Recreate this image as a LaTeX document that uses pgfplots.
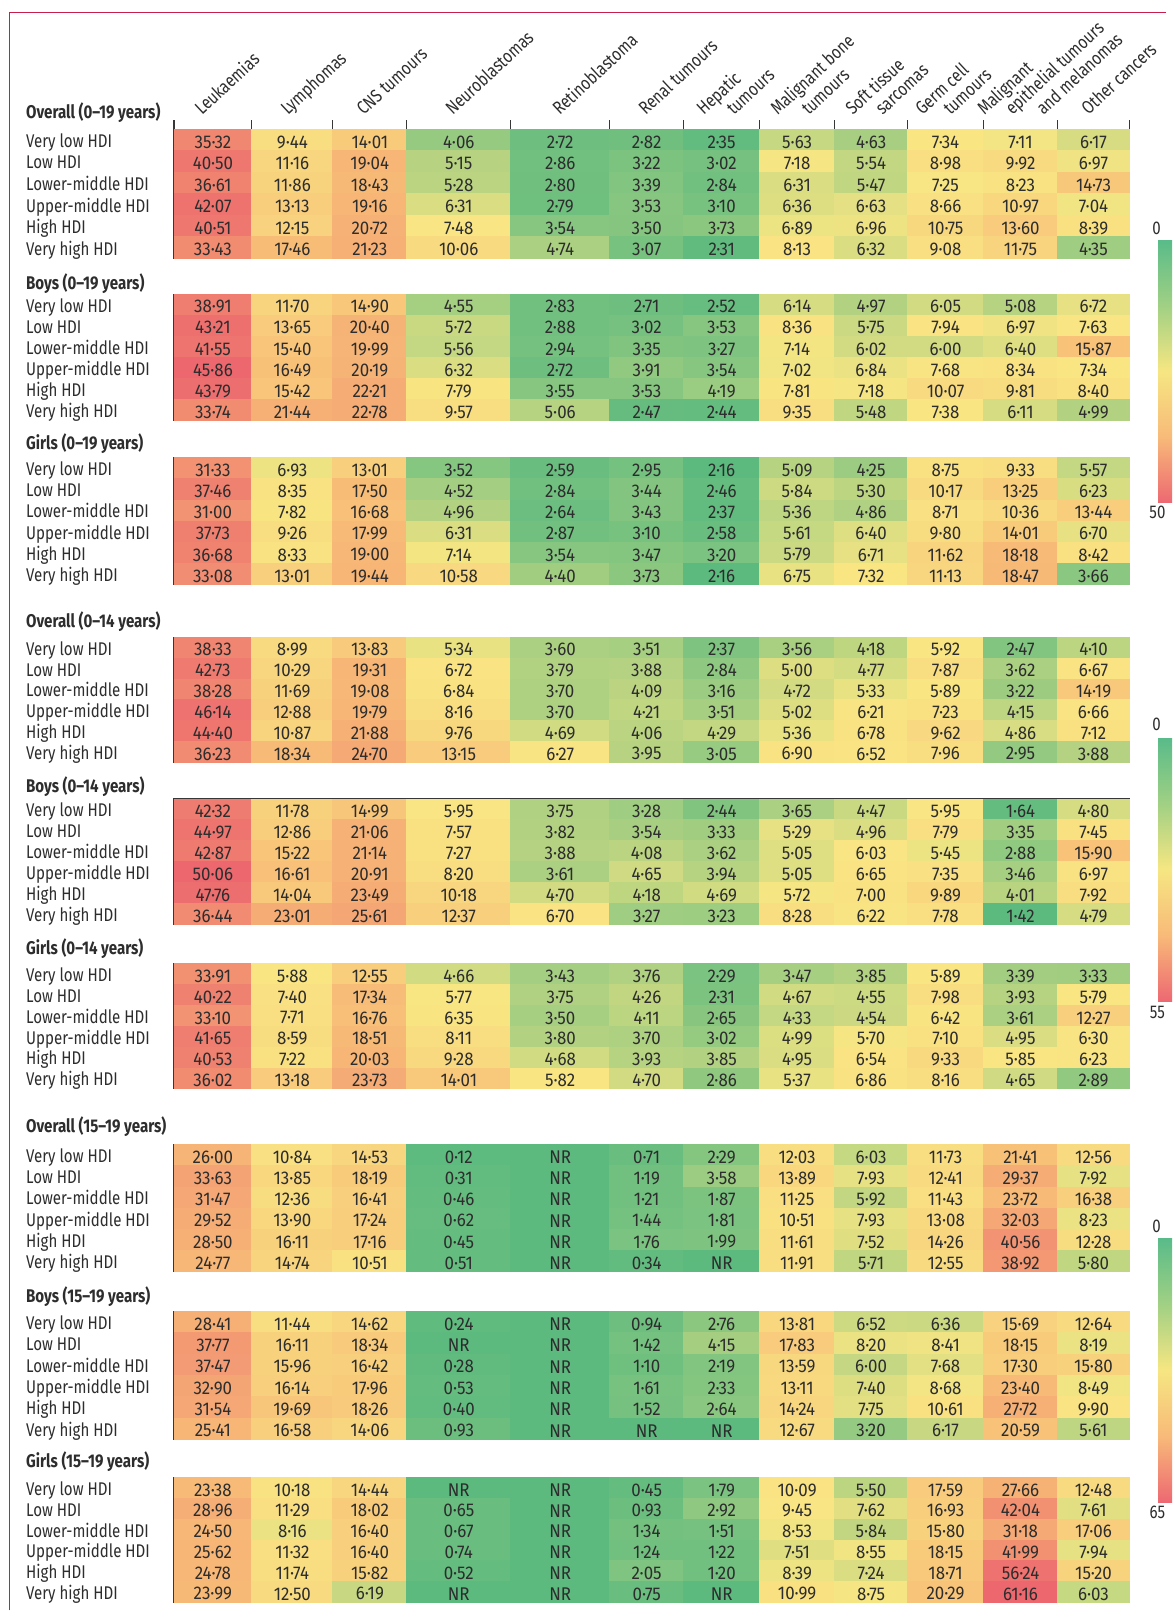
\documentclass[border=0pt]{standalone}
\usepackage{fontspec}
\setmainfont{Fira Sans}[FakeStretch=0.82]
\newfontfamily\numfont{Fira Sans}[FakeStretch=0.92]
\usepackage{pgfplots}
\usepackage{pgfplotstable}
\pgfplotsset{compat=1.18}
\definecolor{txt}{RGB}{45,45,45}
\definecolor{frm}{RGB}{55,55,55}
\definecolor{crim}{RGB}{200,30,75}
\newcommand\lab{\fontsize{18.4}{22}\selectfont}
\newcommand\numlab{\numfont\fontsize{18.4}{22}\selectfont}
\pgfdeclareplotmark{cellrect}{\pgfsetfillcolor{mapped color}\pgfpathrectangle{\pgfpoint{-1pt}{-1pt}}{\pgfpoint{2pt}{2pt}}\pgfusepathqfill}
\pgfplotsset{
 colormap={barmap}{rgb255=(88,187,137) rgb255=(160,208,132) rgb255=(246,230,130) rgb255=(248,186,121) rgb255=(237,104,114)},
 colormap={cells}{rgb255=(92,186,127) rgb255=(108,190,127) rgb255=(123,195,128) rgb255=(139,199,128) rgb255=(155,204,129)
   rgb255=(171,208,129) rgb255=(186,212,129) rgb255=(202,217,130) rgb255=(218,221,130) rgb255=(233,226,131) rgb255=(249,230,131)
   rgb255=(248,214,127) rgb255=(248,199,122) rgb255=(247,183,118) rgb255=(245,172,117) rgb255=(244,160,116) rgb255=(242,149,115)
   rgb255=(241,138,113) rgb255=(239,127,112) rgb255=(238,115,111) rgb255=(236,104,110)},
}
\newcommand\celllabel{\pgfmathfloatparsenumber{\rawv}\pgfmathfloatgetflagstomacro\pgfmathresult\nrflag
  \ifnum\nrflag=0 NR\else\pgfmathprintnumber[fixed,fixed zerofill,precision=2,assume math mode=true,set decimal separator={\textperiodcentered}]{\rawv}\fi}
\pgfplotsset{cellplot/.style 2 args={scatter, only marks, mark=cellrect, point meta=explicit,
  mark options={xscale=#1, yscale=#2},
  scatter/use mapped color={draw=none, fill=mapped color},
  nodes near coords*={\celllabel}, nodes near coords align=center,
  every node near coord/.append style={font=\numlab, text=txt, inner sep=0pt, yshift=-2pt}}}
% #1 table #2 top #3 row height #4 half height (+overlap) #5 column #6 centre #7 half width (+overlap)
\newcommand\cellcol[7]{%
  \addplot[cellplot={#7}{#4}, visualization depends on={\thisrow{#5}\as\rawv}]
    table[x expr={#6}, y expr={#2+#3*(\coordindex+0.5)},
          meta expr={25*max(min((\thisrow{#5}-\gmin)/(\gmid-\gmin),1),0)+25*max(\thisrow{#5}-\gmid,0)/(\gmax-\gmid)}] {#1};
}
\newcommand\drawblock[4]{%
  \cellcol{#1}{#2}{#3}{#4}{c0}{213}{39.4}
  \cellcol{#1}{#2}{#3}{#4}{c1}{292.5}{40.9}
  \cellcol{#1}{#2}{#3}{#4}{c2}{370}{37.4}
  \cellcol{#1}{#2}{#3}{#4}{c3}{459}{52.4}
  \cellcol{#1}{#2}{#3}{#4}{c4}{560.5}{49.9}
  \cellcol{#1}{#2}{#3}{#4}{c5}{647}{37.4}
  \cellcol{#1}{#2}{#3}{#4}{c6}{722}{38.4}
  \cellcol{#1}{#2}{#3}{#4}{c7}{797.5}{37.9}
  \cellcol{#1}{#2}{#3}{#4}{c8}{871.5}{36.9}
  \cellcol{#1}{#2}{#3}{#4}{c9}{946}{38.4}
  \cellcol{#1}{#2}{#3}{#4}{c10}{1021}{37.4}
  \cellcol{#1}{#2}{#3}{#4}{c11}{1094}{36.4}
}
\newcommand\blockframe[2]{%
  \draw[frm, line width=1.3pt] (axis cs:174,#1) rectangle (axis cs:1130,#2);
  \draw[frm, line width=1.2pt] (axis cs:252,#1) -- (axis cs:252,#2) (axis cs:333,#1) -- (axis cs:333,#2)
     (axis cs:407,#1) -- (axis cs:407,#2) (axis cs:511,#1) -- (axis cs:511,#2)
     (axis cs:610,#1) -- (axis cs:610,#2) (axis cs:684,#1) -- (axis cs:684,#2)
     (axis cs:760,#1) -- (axis cs:760,#2) (axis cs:835,#1) -- (axis cs:835,#2)
     (axis cs:908,#1) -- (axis cs:908,#2) (axis cs:984,#1) -- (axis cs:984,#2)
     (axis cs:1058,#1) -- (axis cs:1058,#2);
}
% NR (not reported) is stored as 0
\pgfplotstableread{
c0 c1 c2 c3 c4 c5 c6 c7 c8 c9 c10 c11
35.32 9.44 14.01 4.06 2.72 2.82 2.35 5.63 4.63 7.34 7.11 6.17
40.50 11.16 19.04 5.15 2.86 3.22 3.02 7.18 5.54 8.98 9.92 6.97
36.61 11.86 18.43 5.28 2.80 3.39 2.84 6.31 5.47 7.25 8.23 14.73
42.07 13.13 19.16 6.31 2.79 3.53 3.10 6.36 6.63 8.66 10.97 7.04
40.51 12.15 20.72 7.48 3.54 3.50 3.73 6.89 6.96 10.75 13.60 8.39
33.43 17.46 21.23 10.06 4.74 3.07 2.31 8.13 6.32 9.08 11.75 4.35
}\tA
\pgfplotstableread{
c0 c1 c2 c3 c4 c5 c6 c7 c8 c9 c10 c11
38.91 11.70 14.90 4.55 2.83 2.71 2.52 6.14 4.97 6.05 5.08 6.72
43.21 13.65 20.40 5.72 2.88 3.02 3.53 8.36 5.75 7.94 6.97 7.63
41.55 15.40 19.99 5.56 2.94 3.35 3.27 7.14 6.02 6.00 6.40 15.87
45.86 16.49 20.19 6.32 2.72 3.91 3.54 7.02 6.84 7.68 8.34 7.34
43.79 15.42 22.21 7.79 3.55 3.53 4.19 7.81 7.18 10.07 9.81 8.40
33.74 21.44 22.78 9.57 5.06 2.47 2.44 9.35 5.48 7.38 6.11 4.99
}\tB
\pgfplotstableread{
c0 c1 c2 c3 c4 c5 c6 c7 c8 c9 c10 c11
31.33 6.93 13.01 3.52 2.59 2.95 2.16 5.09 4.25 8.75 9.33 5.57
37.46 8.35 17.50 4.52 2.84 3.44 2.46 5.84 5.30 10.17 13.25 6.23
31.00 7.82 16.68 4.96 2.64 3.43 2.37 5.36 4.86 8.71 10.36 13.44
37.73 9.26 17.99 6.31 2.87 3.10 2.58 5.61 6.40 9.80 14.01 6.70
36.68 8.33 19.00 7.14 3.54 3.47 3.20 5.79 6.71 11.62 18.18 8.42
33.08 13.01 19.44 10.58 4.40 3.73 2.16 6.75 7.32 11.13 18.47 3.66
}\tC
\pgfplotstableread{
c0 c1 c2 c3 c4 c5 c6 c7 c8 c9 c10 c11
38.33 8.99 13.83 5.34 3.60 3.51 2.37 3.56 4.18 5.92 2.47 4.10
42.73 10.29 19.31 6.72 3.79 3.88 2.84 5.00 4.77 7.87 3.62 6.67
38.28 11.69 19.08 6.84 3.70 4.09 3.16 4.72 5.33 5.89 3.22 14.19
46.14 12.88 19.79 8.16 3.70 4.21 3.51 5.02 6.21 7.23 4.15 6.66
44.40 10.87 21.88 9.76 4.69 4.06 4.29 5.36 6.78 9.62 4.86 7.12
36.23 18.34 24.70 13.15 6.27 3.95 3.05 6.90 6.52 7.96 2.95 3.88
}\tD
\pgfplotstableread{
c0 c1 c2 c3 c4 c5 c6 c7 c8 c9 c10 c11
42.32 11.78 14.99 5.95 3.75 3.28 2.44 3.65 4.47 5.95 1.64 4.80
44.97 12.86 21.06 7.57 3.82 3.54 3.33 5.29 4.96 7.79 3.35 7.45
42.87 15.22 21.14 7.27 3.88 4.08 3.62 5.05 6.03 5.45 2.88 15.90
50.06 16.61 20.91 8.20 3.61 4.65 3.94 5.05 6.65 7.35 3.46 6.97
47.76 14.04 23.49 10.18 4.70 4.18 4.69 5.72 7.00 9.89 4.01 7.92
36.44 23.01 25.61 12.37 6.70 3.27 3.23 8.28 6.22 7.78 1.42 4.79
}\tE
\pgfplotstableread{
c0 c1 c2 c3 c4 c5 c6 c7 c8 c9 c10 c11
33.91 5.88 12.55 4.66 3.43 3.76 2.29 3.47 3.85 5.89 3.39 3.33
40.22 7.40 17.34 5.77 3.75 4.26 2.31 4.67 4.55 7.98 3.93 5.79
33.10 7.71 16.76 6.35 3.50 4.11 2.65 4.33 4.54 6.42 3.61 12.27
41.65 8.59 18.51 8.11 3.80 3.70 3.02 4.99 5.70 7.10 4.95 6.30
40.53 7.22 20.03 9.28 4.68 3.93 3.85 4.95 6.54 9.33 5.85 6.23
36.02 13.18 23.73 14.01 5.82 4.70 2.86 5.37 6.86 8.16 4.65 2.89
}\tF
\pgfplotstableread{
c0 c1 c2 c3 c4 c5 c6 c7 c8 c9 c10 c11
26.00 10.84 14.53 0.12 0 0.71 2.29 12.03 6.03 11.73 21.41 12.56
33.63 13.85 18.19 0.31 0 1.19 3.58 13.89 7.93 12.41 29.37 7.92
31.47 12.36 16.41 0.46 0 1.21 1.87 11.25 5.92 11.43 23.72 16.38
29.52 13.90 17.24 0.62 0 1.44 1.81 10.51 7.93 13.08 32.03 8.23
28.50 16.11 17.16 0.45 0 1.76 1.99 11.61 7.52 14.26 40.56 12.28
24.77 14.74 10.51 0.51 0 0.34 0 11.91 5.71 12.55 38.92 5.80
}\tG
\pgfplotstableread{
c0 c1 c2 c3 c4 c5 c6 c7 c8 c9 c10 c11
28.41 11.44 14.62 0.24 0 0.94 2.76 13.81 6.52 6.36 15.69 12.64
37.77 16.11 18.34 0 0 1.42 4.15 17.83 8.20 8.41 18.15 8.19
37.47 15.96 16.42 0.28 0 1.10 2.19 13.59 6.00 7.68 17.30 15.80
32.90 16.14 17.96 0.53 0 1.61 2.33 13.11 7.40 8.68 23.40 8.49
31.54 19.69 18.26 0.40 0 1.52 2.64 14.24 7.75 10.61 27.72 9.90
25.41 16.58 14.06 0.93 0 0 0 12.67 3.20 6.17 20.59 5.61
}\tH
\pgfplotstableread{
c0 c1 c2 c3 c4 c5 c6 c7 c8 c9 c10 c11
23.38 10.18 14.44 0 0 0.45 1.79 10.09 5.50 17.59 27.66 12.48
28.96 11.29 18.02 0.65 0 0.93 2.92 9.45 7.62 16.93 42.04 7.61
24.50 8.16 16.40 0.67 0 1.34 1.51 8.53 5.84 15.80 31.18 17.06
25.62 11.32 16.40 0.74 0 1.24 1.22 7.51 8.55 18.15 41.99 7.94
24.78 11.74 15.82 0.52 0 2.05 1.20 8.39 7.24 18.71 56.24 15.20
23.99 12.50 6.19 0 0 0.75 0 10.99 8.75 20.29 61.16 6.03
}\tI
\begin{document}
\begin{tikzpicture}
\begin{axis}[
  name=main, at={(0,0)}, anchor=north west,
  x=1pt, y=1pt, y dir=reverse,
  xmin=26, xmax=1167, ymin=116, ymax=1611,
  axis line style={draw=none}, tick style={draw=none}, major tick length=0pt,
  clip=false,
  colormap name=cells, point meta min=0, point meta max=50,
  xtick={202,288,364,453,560,646,704,734,778,809,853,883,923,951,985,1013,1044,1089},
  xticklabels={Leukaemias,Lymphomas,CNS tumours,Neuroblastomas,Retinoblastoma,Renal tumours,Hepatic,tumours,Malignant bone,tumours,Soft tissue,sarcomas,Germ cell,tumours,Malignant,epithelial tumours,and melanomas,Other cancers},
  xticklabel pos=upper,
  xticklabel style={rotate=43, anchor=base west, inner sep=0pt, font=\lab, text=txt},
  ytick={119,147.5,169.0,190.5,212.1,233.6,255.1,
         289.3,312.3,333.4,354.5,375.6,396.7,417.8,
         450,475.7,496.9,518.1,539.4,560.6,581.8,
         627.7,655.5,676.3,697.2,718.0,738.8,759.7,
         792.7,817.2,838.1,859.1,880.0,901.0,921.9,
         955,982.1,1002.9,1023.8,1044.6,1065.4,1086.3,
         1133.3,1163.0,1184.2,1205.5,1226.7,1247.9,1269.1,
         1302.7,1330.1,1351.4,1372.7,1394.1,1415.4,1436.7,
         1468.3,1496.1,1516.9,1537.7,1558.4,1579.2,1600.0},
  yticklabels={{\bfseries Overall (0--19 years)},Very low HDI,Low HDI,Lower-middle HDI,Upper-middle HDI,High HDI,Very high HDI,
               {\bfseries Boys (0--19 years)},Very low HDI,Low HDI,Lower-middle HDI,Upper-middle HDI,High HDI,Very high HDI,
               {\bfseries Girls (0--19 years)},Very low HDI,Low HDI,Lower-middle HDI,Upper-middle HDI,High HDI,Very high HDI,
               {\bfseries Overall (0--14 years)},Very low HDI,Low HDI,Lower-middle HDI,Upper-middle HDI,High HDI,Very high HDI,
               {\bfseries Boys (0--14 years)},Very low HDI,Low HDI,Lower-middle HDI,Upper-middle HDI,High HDI,Very high HDI,
               {\bfseries Girls (0--14 years)},Very low HDI,Low HDI,Lower-middle HDI,Upper-middle HDI,High HDI,Very high HDI,
               {\bfseries Overall (15--19 years)},Very low HDI,Low HDI,Lower-middle HDI,Upper-middle HDI,High HDI,Very high HDI,
               {\bfseries Boys (15--19 years)},Very low HDI,Low HDI,Lower-middle HDI,Upper-middle HDI,High HDI,Very high HDI,
               {\bfseries Girls (15--19 years)},Very low HDI,Low HDI,Lower-middle HDI,Upper-middle HDI,High HDI,Very high HDI},
  yticklabel style={anchor=base west, inner sep=0pt, font=\lab, text=txt},
]
\def\gmin{2.16}\def\gmid{7.3}\def\gmax{45.86}
\drawblock{\tA}{129.3}{21.53}{11.17}
\drawblock{\tB}{294.3}{21.12}{10.96}
\drawblock{\tC}{457.7}{21.22}{11.01}
\def\gmin{1.42}\def\gmid{5.8}\def\gmax{50.06}
\drawblock{\tD}{637.7}{20.83}{10.82}
\drawblock{\tE}{799.3}{20.95}{10.88}
\drawblock{\tF}{964.3}{20.83}{10.82}
\def\gmin{0}\def\gmid{9}\def\gmax{61.16}
\drawblock{\tG}{1145}{21.22}{11.01}
\drawblock{\tH}{1312}{21.33}{11.07}
\drawblock{\tI}{1478.3}{20.78}{10.79}
\blockframe{129.3}{258.5}
\blockframe{294.3}{421}
\blockframe{457.7}{585}
\blockframe{637.7}{762.7}
\blockframe{799.3}{925}
\blockframe{964.3}{1089.3}
\blockframe{1145}{1272.3}
\blockframe{1312}{1440}
\blockframe{1478.3}{1603}
\draw[frm, line width=1.2pt] (axis cs:174,129.3) -- (axis cs:174,120) (axis cs:252,129.3) -- (axis cs:252,120)
  (axis cs:333,129.3) -- (axis cs:333,120) (axis cs:407,129.3) -- (axis cs:407,120)
  (axis cs:511,129.3) -- (axis cs:511,120) (axis cs:610,129.3) -- (axis cs:610,120)
  (axis cs:684,129.3) -- (axis cs:684,120) (axis cs:760,129.3) -- (axis cs:760,120)
  (axis cs:835,129.3) -- (axis cs:835,120) (axis cs:908,129.3) -- (axis cs:908,120)
  (axis cs:984,129.3) -- (axis cs:984,120) (axis cs:1058,129.3) -- (axis cs:1058,120)
  (axis cs:1130,129.3) -- (axis cs:1130,120);
\draw[crim, line width=1.5pt] (axis cs:9.3,1611) -- (axis cs:9.3,12.3) -- (axis cs:1167,12.3);
\node[font=\lab, text=txt, inner sep=0pt] at (axis cs:1157,228) {0};
\node[font=\lab, text=txt, inner sep=0pt] at (axis cs:1158,513) {50};
\node[font=\lab, text=txt, inner sep=0pt] at (axis cs:1157,725) {0};
\node[font=\lab, text=txt, inner sep=0pt] at (axis cs:1158,1013) {55};
\node[font=\lab, text=txt, inner sep=0pt] at (axis cs:1157,1227) {0};
\node[font=\lab, text=txt, inner sep=0pt] at (axis cs:1158,1513) {65};
\coordinate (cb1) at (axis cs:1150,239.3);
\coordinate (cb2) at (axis cs:1150,737.7);
\coordinate (cb3) at (axis cs:1150,1238);
\path (axis cs:0,0) rectangle (axis cs:1167,1611);
\end{axis}
\begin{axis}[at={(cb1)}, anchor=north west, hide axis, scale only axis, width=16pt, height=263.7pt,
  xmin=0, xmax=1, ymin=0, ymax=1, colormap name=barmap, point meta min=0, point meta max=50,
  colorbar, colorbar style={at={(parent axis.north west)}, anchor=north west, scale only axis, width=16pt, height=263.7pt, ytick=\empty, y dir=reverse, axis line style={draw=none}}]
\addplot[draw=none] coordinates {(0,0)};
\end{axis}
\begin{axis}[at={(cb2)}, anchor=north west, hide axis, scale only axis, width=16pt, height=264pt,
  xmin=0, xmax=1, ymin=0, ymax=1, colormap name=barmap, point meta min=0, point meta max=55,
  colorbar, colorbar style={at={(parent axis.north west)}, anchor=north west, scale only axis, width=16pt, height=264pt, ytick=\empty, y dir=reverse, axis line style={draw=none}}]
\addplot[draw=none] coordinates {(0,0)};
\end{axis}
\begin{axis}[at={(cb3)}, anchor=north west, hide axis, scale only axis, width=16pt, height=265pt,
  xmin=0, xmax=1, ymin=0, ymax=1, colormap name=barmap, point meta min=0, point meta max=65,
  colorbar, colorbar style={at={(parent axis.north west)}, anchor=north west, scale only axis, width=16pt, height=265pt, ytick=\empty, y dir=reverse, axis line style={draw=none}}]
\addplot[draw=none] coordinates {(0,0)};
\end{axis}
\end{tikzpicture}
\end{document}
